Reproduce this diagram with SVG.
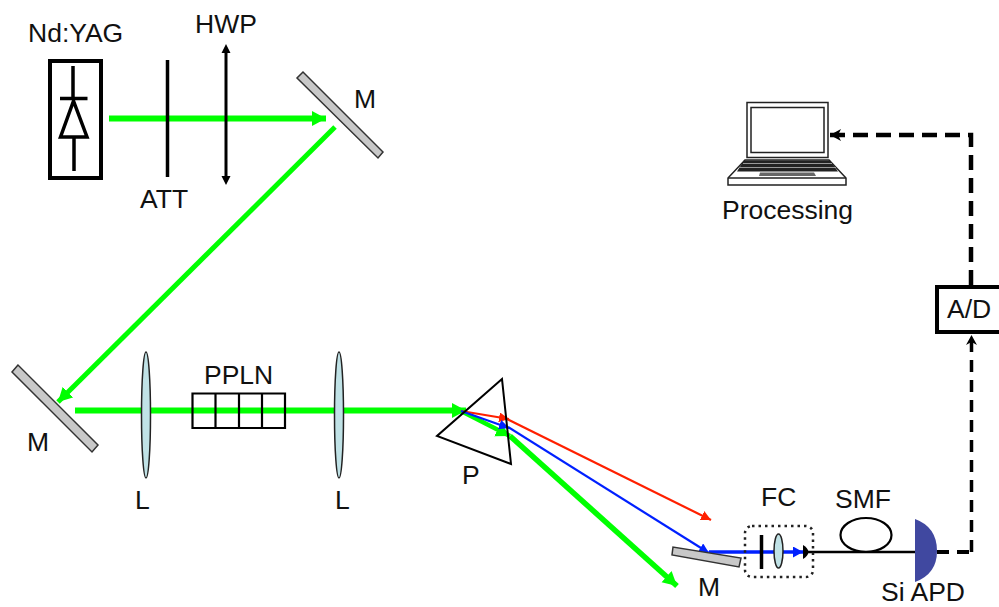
<svg xmlns="http://www.w3.org/2000/svg" width="999" height="607" viewBox="0 0 999 607">
<style>
text{font-family:"Liberation Sans",Arial,sans-serif;font-size:26.500px;fill:#111}
.g{fill:none;stroke:#00ff00}
.mir{fill:#c8c8c8;stroke:#333;stroke-width:1.500}
.lens{fill:#c0e2e6;stroke:#222;stroke-width:1.500}
.k{fill:none;stroke:#000}
</style>
<defs>
<marker id="ag" markerUnits="userSpaceOnUse" markerWidth="16" markerHeight="16" refX="14" refY="8" orient="auto"><path d="M0 0.500L14 8L0 15.500z" fill="#00ff00"/></marker>
<marker id="ar" markerUnits="userSpaceOnUse" markerWidth="12" markerHeight="12" refX="10" refY="5" orient="auto"><path d="M0 0L10 5L0 10z" fill="#ff2000"/></marker>
<marker id="ab" markerUnits="userSpaceOnUse" markerWidth="12" markerHeight="12" refX="10" refY="5" orient="auto"><path d="M0 0L10 5L0 10z" fill="#0020ff"/></marker>
<marker id="abig" markerUnits="userSpaceOnUse" markerWidth="12" markerHeight="12" refX="10" refY="5.500" orient="auto"><path d="M0 0L10 5.500L0 11z" fill="#0020ff"/></marker>
<marker id="ak" markerUnits="userSpaceOnUse" markerWidth="12" markerHeight="12" refX="10" refY="5.500" orient="auto"><path d="M0 0L10 5.500L0 11L3 5.500z" fill="#000"/></marker>
<marker id="akd" markerUnits="userSpaceOnUse" markerWidth="14" markerHeight="14" refX="11" refY="6" orient="auto"><path d="M0 0L11 6L0 12L3 6z" fill="#000"/></marker>
</defs>
<rect width="999" height="607" fill="#fff"/>
<g id="connectors">
<path class="g" stroke-width="6" d="M109 118.500H326" marker-end="url(#ag)"/>
<path class="g" stroke-width="5" d="M335 127L58 402" marker-end="url(#ag)"/>
<path class="g" stroke-width="6" d="M75 410.500H466" marker-end="url(#ag)"/>
<path class="g" stroke-width="4.500" d="M461 411L510 436" marker-end="url(#ag)"/>
<path class="g" stroke-width="5.500" d="M510 436L677 586" marker-end="url(#ag)"/>
<path d="M461 411L509 419" fill="none" stroke="#ff2000" stroke-width="2.200" marker-end="url(#ar)"/>
<path d="M507 419L711 520" fill="none" stroke="#ff2000" stroke-width="2.200" marker-end="url(#ar)"/>
<path d="M461 411L509 428" fill="none" stroke="#0020ff" stroke-width="2.200" marker-end="url(#ab)"/>
<path d="M508 427L709 553" fill="none" stroke="#0020ff" stroke-width="2.200" marker-end="url(#ab)"/>
<path d="M709 552H803" fill="none" stroke="#0020ff" stroke-width="3.500" marker-end="url(#abig)"/>
<path class="k" stroke-width="2.500" d="M803 552H916"/>
<path class="k" stroke-width="4" stroke-dasharray="12 8" d="M937 552H971.500"/>
<path class="k" stroke-width="3.500" stroke-dasharray="12 8" d="M971.500 552V335" marker-end="url(#ak)"/>
<path class="k" stroke-width="4.500" stroke-dasharray="15 8" d="M971 285V135H830" marker-end="url(#akd)"/>
</g>
<g id="laser">
<rect x="50" y="61" width="51" height="117" fill="#fff" stroke="#000" stroke-width="4"/>
<path class="k" stroke-width="3.500" d="M73 66V98M60 98.500H87.500M60.500 137L73.500 101L87 137zM74 137V171"/>
<text x="28" y="42">Nd:YAG</text>
</g>
<g id="att"><path class="k" stroke-width="3.500" d="M167.500 60V177"/><text x="140" y="208">ATT</text></g>
<g id="hwp"><path class="k" stroke-width="3" d="M226 50V179"/><path d="M226 44L230.500 53H221.500zM226 185L230.500 176H221.500z" fill="#000"/><text x="195" y="33">HWP</text></g>
<g id="mirror1"><polygon class="mir" points="303,72 297,78 378,158 383,152"/><text x="354" y="108">M</text></g>
<g id="mirror2"><polygon class="mir" points="18,365 12,372 92,452 98,445"/><text x="27" y="451">M</text></g>
<g id="lens1"><ellipse class="lens" cx="146" cy="415" rx="4.500" ry="63"/><text x="135" y="509">L</text></g>
<g id="ppln"><path d="M192.500 393.500H285V428H192.500zM215.500 393.500V428M239 393.500V428M262 393.500V428" class="k" stroke-width="2.200"/><text x="204" y="384">PPLN</text></g>
<g id="lens2"><ellipse class="lens" cx="339" cy="415" rx="4.500" ry="63"/><text x="335" y="509">L</text></g>
<g id="prism"><polygon class="k" stroke-width="2" points="502,379 437,436 511,464"/><text x="462" y="484">P</text></g>
<g id="mirror3"><polygon class="mir" points="673,547 672,555 739,567 741,558"/><text x="698" y="596">M</text></g>
<g id="fc">
<rect x="745" y="526" width="68" height="51" rx="7" fill="none" stroke="#222" stroke-width="2.500" stroke-dasharray="2.500 4"/>
<path class="k" stroke-width="3.500" d="M761.500 535V569"/>
<ellipse class="lens" cx="778.500" cy="551" rx="4.500" ry="17"/>
<path d="M803 545Q808 548 808.500 552Q808 556 803 559z" fill="#000"/>
<text x="761" y="506">FC</text>
</g>
<g id="smf"><ellipse class="k" stroke-width="2.200" cx="866" cy="535" rx="25.500" ry="17"/><text x="835" y="508">SMF</text></g>
<g id="apd"><path d="M915 519Q937 527 937 551Q937 574 915 582z" fill="#4048a0"/><text x="881" y="601">Si APD</text></g>
<g id="ad"><rect x="937" y="287" width="70" height="45" fill="#fff" stroke="#000" stroke-width="4"/><text x="947" y="318">A/D</text></g>
<g id="laptop">
<rect x="747" y="102.500" width="81" height="55" fill="#fff" stroke="#222" stroke-width="1.500"/>
<rect x="751" y="107.500" width="73" height="45" fill="#fff" stroke="#222" stroke-width="1.500"/>
<path d="M745 160H829L846 178V185H728V178z" fill="#fff" stroke="#222" stroke-width="1.500"/>
<path d="M744 160.500H830L838 171.500H737z" fill="#222"/>
<path d="M743 163.500H832M739 167.500H836" stroke="#999" stroke-width="1.200"/>
<path d="M760 172.500H814L816 176H759z" fill="#666"/>
<path d="M728 178H846" stroke="#222" stroke-width="1.500"/>
<text x="722" y="219">Processing</text>
</g>
</svg>
